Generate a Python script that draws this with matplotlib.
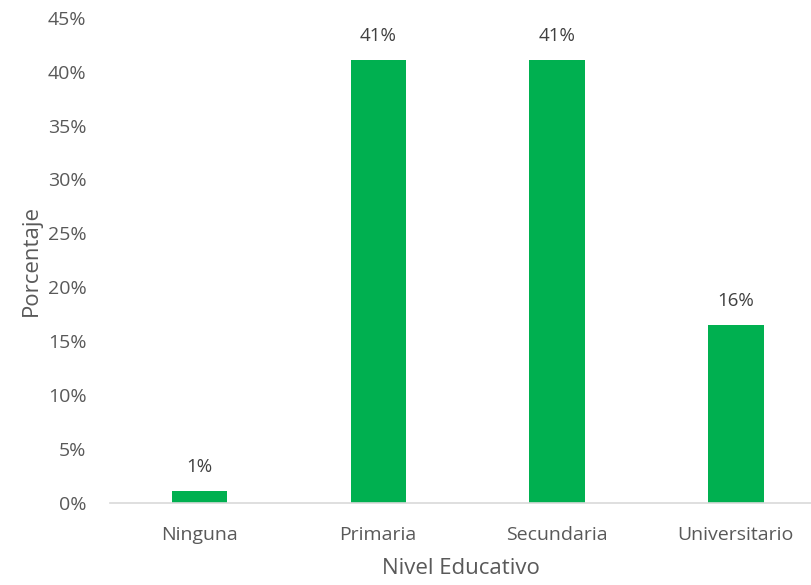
import matplotlib.pyplot as plt
from matplotlib.ticker import FuncFormatter

niveles = ['Ninguna', 'Primaria', 'Secundaria', 'Universitario']
porcentajes = [1.1, 41.1, 41.1, 16.45]
etiquetas = ['1%', '41%', '41%', '16%']

plt.rcParams['font.family'] = ['Open Sans', 'DejaVu Sans']

fig = plt.figure(figsize=(8.11, 5.85), dpi=100)
ax = fig.add_axes([110 / 811, 1 - 502.5 / 585, 1 - 110 / 811, (502.5 - 18) / 585])

x = range(len(niveles))
bars = ax.bar(x, porcentajes, width=0.31, color='#00B050')

for b, lab in zip(bars, etiquetas):
    ax.text(b.get_x() + b.get_width() / 2, b.get_height() + 1.4, lab,
            ha='center', va='bottom', fontsize=13.5, color='#404040')

ax.set_xlim(-0.5, 3.42)
ax.set_ylim(0, 45)
ax.set_yticks(range(0, 46, 5))
ax.yaxis.set_major_formatter(FuncFormatter(lambda v, p: f'{int(v)}%'))
ax.set_xticks(list(x))
ax.set_xticklabels(niveles)

for s in ['top', 'right', 'left']:
    ax.spines[s].set_visible(False)
ax.spines['bottom'].set_color('#D9D9D9')
ax.spines['bottom'].set_linewidth(1.2)
ax.tick_params(axis='both', length=0, labelsize=14, colors='#595959')
ax.tick_params(axis='x', pad=17)
ax.tick_params(axis='y', pad=17)

ax.set_xlabel('Nivel Educativo', fontsize=16, color='#595959', labelpad=10)
ax.set_ylabel('Porcentaje', fontsize=16, color='#595959', labelpad=4)

fig.savefig('out.png', dpi=100)
